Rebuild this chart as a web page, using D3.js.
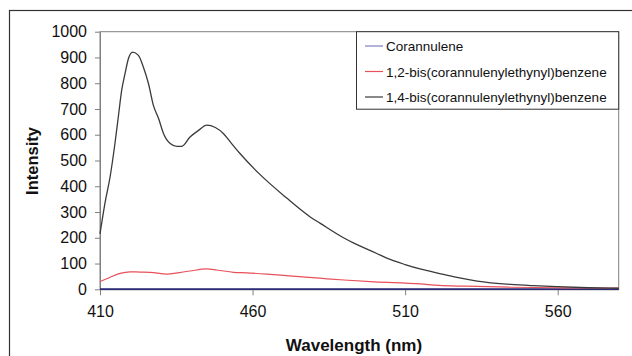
<!DOCTYPE html>
<html><head><meta charset="utf-8">
<script src="https://cdn.jsdelivr.net/npm/d3@7"></script>
<style>body{margin:0;background:#fff;}svg{display:block;font-family:"Liberation Sans",Arial,sans-serif;}</style>
</head><body>
<script>
const seriesNames = ["Corannulene","1,2-bis(corannulenylethynyl)benzene","1,4-bis(corannulenylethynyl)benzene"];
const seriesColors = ["#2b2b7a","#e8505a","#3a3a3a"];
const corannulene = [[410,1],[450,1],[500,1],[540,1],[580,1]];
const bis12 = [[410,30],[413,45],[416.6,62],[419.8,68],[423,67],[426.4,66],[431.9,59],[436,65],[439.5,71],[445,79],[448.3,75],[453.8,66],[458,64],[464.7,59],[472,52],[482,43],[490,36],[500,29],[515,21],[521,15],[530,12],[544.6,8],[560,6],[570,5],[580,5]];
const bis14 = [[410,215],[411.6,333],[413.3,436],[414.9,566],[416,669],[417.1,772],[418.2,837],[419.3,895],[420.7,921],[422.6,908],[424.2,863],[425.9,798],[427.5,714],[429.2,663],[430.8,605],[433,566],[435.2,555],[436.8,555],[439.5,591],[442.3,617],[445,637],[447.8,628],[450.5,604],[452.7,572],[455.8,528],[462.4,446],[471,356],[478.9,281],[482.2,256],[489.8,200],[493.2,179],[500.7,139],[504,121],[510,96],[515.2,78],[521,62],[527,46],[533.6,32],[544.6,19],[552,14],[560,10],[570,6],[580,4]];
const xTicks = [410,460,510,560];
const yTicks = [0,100,200,300,400,500,600,700,800,900,1000];

const W=632,H=356;
const svg=d3.select("body").append("svg").attr("width",W).attr("height",H);
svg.append("rect").attr("width",W).attr("height",H).attr("fill","#fff");
svg.append("rect").attr("x",9.5).attr("y",10.5).attr("width",700).attr("height",400).attr("fill","none").attr("stroke","#333").attr("stroke-width",1.2);

const L=100,R=618.7,T=31.7,B=289.3;
const x=d3.scaleLinear().domain([410,580]).range([L,R]);
const y=d3.scaleLinear().domain([0,1000]).range([B,T]);

svg.append("rect").attr("x",L).attr("y",T).attr("width",R-L).attr("height",B-T).attr("fill","none").attr("stroke","#808080").attr("stroke-width",1);

const xa=svg.append("g").attr("transform",`translate(0,${B})`).call(d3.axisBottom(x).tickValues(xTicks).tickSize(6).tickSizeOuter(0).tickPadding(10).tickFormat(d3.format("d")));
const ya=svg.append("g").attr("transform",`translate(${L},0)`).call(d3.axisLeft(y).tickValues(yTicks).tickSize(5).tickSizeOuter(0).tickPadding(8).tickFormat(d3.format("d")));
[xa,ya].forEach(a=>{a.selectAll("path,line").attr("stroke","#808080");a.selectAll("text").attr("fill","#111").style("font-size","16px").style("font-family","'Liberation Sans',Arial,sans-serif");});

const line=d3.line().x(d=>x(d[0])).y(d=>y(d[1])).curve(d3.curveMonotoneX);
[[corannulene,0,1.8],[bis12,1,1.2],[bis14,2,1.3]].forEach(([data,i,w])=>{
  svg.append("path").datum(data).attr("d",line).attr("fill","none").attr("stroke",seriesColors[i]).attr("stroke-width",w);
});

svg.append("text").attr("x",354).attr("y",351).attr("text-anchor","middle").style("font-size","17px").style("font-weight","bold").attr("fill","#111").text("Wavelength (nm)");
svg.append("text").attr("transform","translate(38,161) rotate(-90)").attr("text-anchor","middle").style("font-size","16.5px").style("font-weight","bold").attr("fill","#111").text("Intensity");

const lg=svg.append("g");
lg.append("rect").attr("x",356.5).attr("y",31.7).attr("width",R-356.5).attr("height",77.5).attr("fill","#fff").attr("stroke","#333").attr("stroke-width",1);
seriesNames.forEach((n,i)=>{
  const yy=46+i*25.5;
  lg.append("line").attr("x1",365).attr("x2",383).attr("y1",yy).attr("y2",yy).attr("stroke",i==0?"#8080c0":seriesColors[i]).attr("stroke-width",1.2);
  lg.append("text").attr("x",386).attr("y",yy+5).style("font-size","13.5px").attr("fill","#111").text(n);
});
</script>
</body></html>
